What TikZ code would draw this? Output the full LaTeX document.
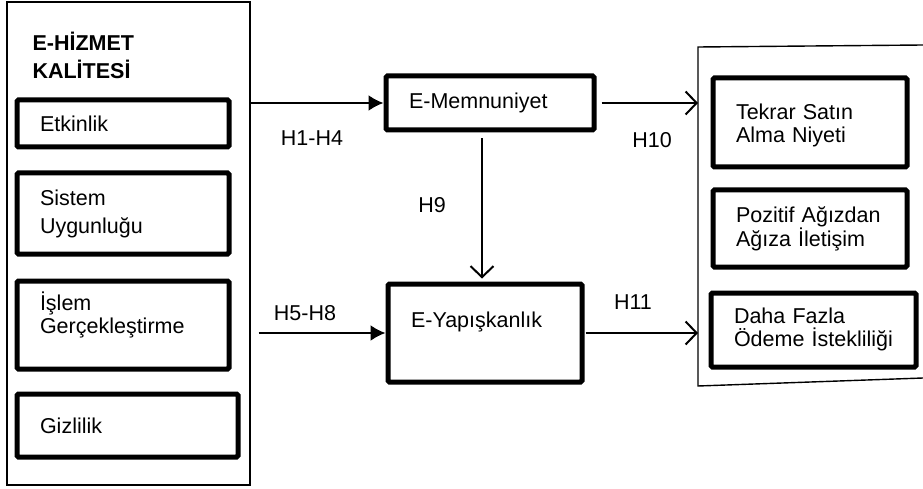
\documentclass[tikz,border=0pt]{standalone}
\usepackage{fontspec}
\setmainfont{Liberation Sans}
\usetikzlibrary{arrows.meta}

\begin{document}
\begin{tikzpicture}[x=1pt, y=-1pt, font=\fontsize{21.5}{23}\selectfont,
  grp/.style={draw, line width=1.4pt},
  kutu/.style={draw, line width=5pt, rounded corners=1.5pt, align=left, inner xsep=23pt, inner ysep=0pt},
  ok/.style={line width=2pt, -{Latex[length=15pt,width=16pt]}},
  acik/.style={line width=2pt, -{Straight Barb[length=11pt,width=23pt,line width=2pt]}}]
  \useasboundingbox (0,0) rectangle (923,489);
  % left group
  \node[grp, minimum width=243pt, minimum height=483pt] (hizmet) at (128.5,243.5) {};
  \node[anchor=west, align=left, font=\fontsize{21.5}{23}\selectfont\bfseries] (baslik) at (29,55) {E-HİZMET\\[5pt]KALİTESİ};
  \node[kutu, text width=166pt, minimum height=47pt] (etk) at (123,123.5) {Etkinlik};
  \node[kutu, text width=166pt, minimum height=81pt] (sis) at (123,213.5) {Sistem\\[5pt]Uygunluğu};
  \node[kutu, text width=166pt, text height=29pt, text depth=59pt] (isl) at (123,325) {İşlem\\Gerçekleştirme};
  \node[kutu, text width=175pt, minimum height=63pt] (giz) at (127.5,425.5) {Gizlilik};
  % middle
  \node[kutu, text width=162pt, minimum height=54pt] (mem) at (490,103) {E-Memnuniyet};
  \node[kutu, text width=148pt, text height=43.5pt, text depth=54.5pt] (yap) at (485,333) {E-Yapışkanlık};
  % right group
  \draw[grp] (923,45) -- (698,47) -- (698,386) -- (923,378);
  \coordinate (sonuc) at (698,214);
  \node[kutu, text width=148pt, text height=42pt, text depth=47pt] (tek) at (810,122.5) {Tekrar Satın\\Alma Niyeti};
  \node[kutu, text width=148pt, minimum height=77pt] (poz) at (810,228.5) {Pozitif Ağızdan\\Ağıza İletişim};
  \node[kutu, text width=159pt, text height=30pt, text depth=44pt] (dah) at (813.5,330) {Daha Fazla\\Ödeme İstekliliği};
  % arrows
  \draw[ok] (hizmet.east |- mem.west) -- (mem.west);
  \draw[ok] ([xshift=8pt]hizmet.east |- yap.west) -- (yap.west);
  \draw[acik] ([xshift=5pt]mem.east) -- (sonuc |- mem.east);
  \draw[acik] ([xshift=1pt]yap.east) -- (sonuc |- yap.east);
  \draw[acik] ([xshift=-8pt, yshift=-6pt]mem.south) -- ([xshift=-8pt, yshift=3pt]mem.south |- yap.north);
  % labels
  \node (h14) at (312,138) {H1-H4};
  \node (h58) at (305,313) {H5-H8};
  \node (h9) at (432,205) {H9};
  \node (h10) at (652,140) {H10};
  \node (h11) at (633,302) {H11};
\end{tikzpicture}
\end{document}
